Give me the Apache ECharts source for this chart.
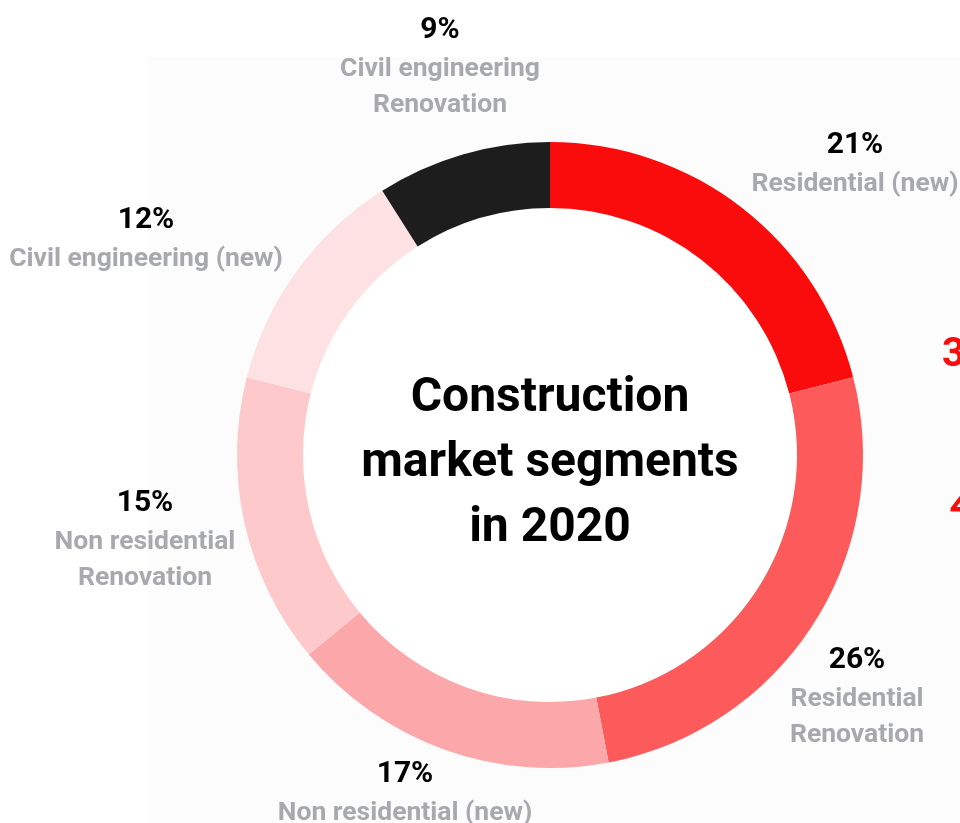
<!DOCTYPE html>
<html>
<head>
<meta charset="utf-8">
<script src="https://cdn.jsdelivr.net/npm/echarts@6/dist/echarts.min.js"></script>
<style>
html,body{margin:0;padding:0;background:#ffffff;}
#chart{width:960px;height:823px;}
</style>
</head>
<body>
<div id="chart"></div>
<script>
// Data
var categories = ['Residential (new)', 'Residential\nRenovation', 'Non residential (new)', 'Non residential\nRenovation', 'Civil engineering (new)', 'Civil engineering\nRenovation'];
var values = [21, 26, 17, 15, 12, 9];
var centerTitle = 'Construction\nmarket segments\nin 2020';

// Styles
var colors = ['#fb0c0c', '#fc5a5b', '#fca8aa', '#fdc9cb', '#fde1e3', '#1d1d1d'];
var labelAnchors = [[855, 124], [857, 639], [405, 753], [145, 482], [146, 199], [440, 9]];

var chart = echarts.init(document.getElementById('chart'), null, {renderer: 'canvas'});
var FONT = 'Roboto';

var option = {
  backgroundColor: '#ffffff',
  animation: false,
  graphic: [
    {type: 'rect', z: -10, shape: {x: 147, y: 57, width: 813, height: 766}, style: {fill: '#fcfcfc'}},
    {type: 'circle', z: -5, shape: {cx: 550, cy: 455, r: 250}, style: {fill: '#ffffff'}},
    {type: 'text', z: 10,
      style: {text: centerTitle, x: 550, y: 464, fontFamily: FONT, fontWeight: 'bold', fontSize: 48, lineHeight: 65, fill: '#000000', align: 'center', verticalAlign: 'middle'}},
    {type: 'text', z: 10, style: {text: '3', x: 942, y: 336, fontFamily: FONT, fontWeight: 'bold', fontSize: 40, fill: '#fb0c0c'}},
    {type: 'text', z: 10, style: {text: '4', x: 950, y: 488, fontFamily: FONT, fontWeight: 'bold', fontStyle: 'italic', fontSize: 40, fill: '#fb0c0c'}}
  ],
  series: [{
    type: 'pie',
    center: [550, 455],
    radius: [247, 313],
    startAngle: 90,
    clockwise: true,
    avoidLabelOverlap: false,
    silent: true,
    itemStyle: {borderWidth: 0},
    label: {
      show: true,
      position: 'outside',
      formatter: function (p) {
        return '{pct|' + p.value + '%}\n' + p.name.split('\n').map(function (s) { return '{nm|' + s + '}'; }).join('\n');
      },
      align: 'center',
      rich: {
        pct: {fontFamily: FONT, fontWeight: 'bold', fontSize: 30, lineHeight: 42, color: '#000000', align: 'center'},
        nm: {fontFamily: FONT, fontWeight: 'bold', fontSize: 26.5, lineHeight: 36, color: '#a7a9ac', align: 'center'}
      }
    },
    labelLine: {show: false},
    labelLayout: function (params) {
      var a = labelAnchors[params.dataIndex];
      return {x: a[0], y: a[1], align: 'center', verticalAlign: 'top'};
    },
    data: categories.map(function (c, i) {
      return {name: c, value: values[i], itemStyle: {color: colors[i]}};
    })
  }]
};
chart.setOption(option);
</script>
</body>
</html>
